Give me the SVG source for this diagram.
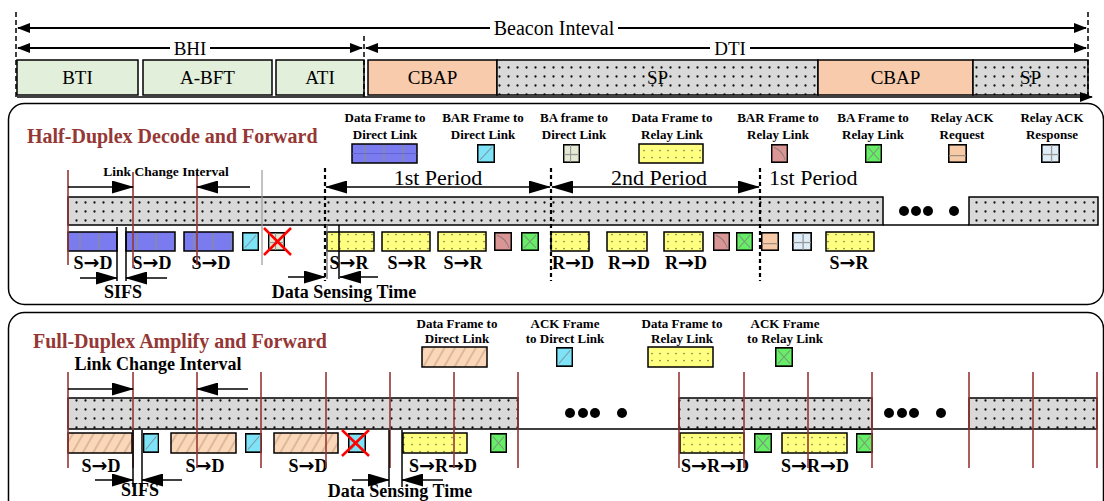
<svg xmlns="http://www.w3.org/2000/svg" xmlns:xlink="http://www.w3.org/1999/xlink" width="1104" height="501" viewBox="0 0 1104 501">
<style>
text{font-family:"Liberation Serif","Times New Roman",serif;fill:#000}
.big{font-size:19px;text-anchor:middle}
.per{font-size:22px}
.lg{font-size:13px;font-weight:bold;text-anchor:middle}
.lab{font-size:18px;font-weight:bold;text-anchor:middle}
.ar{font-family:"DejaVu Sans",sans-serif;font-size:19px;font-weight:bold}
.ttl{font-size:20px;font-weight:bold;fill:#953735}
.box{stroke:#000;stroke-width:1.5}
.bti{fill:#e2efda}
.cbap{fill:#f8cbad}
.dots{fill:url(#pDots)}
.blue{fill:url(#pBlue)}
.yel{fill:url(#pYel)}
.hat{fill:url(#pHat)}
.red{stroke:#953735;stroke-width:1.6}
.blk{stroke:#000;stroke-width:1.5}
.dash{stroke:#000;stroke-width:1.5;stroke-dasharray:5 3}
.pdash{stroke:#000;stroke-width:2.2;stroke-dasharray:4 3}
.arr{stroke:#000;stroke-width:1.5;fill:none;marker-end:url(#ah)}
.arr2{stroke:#000;stroke-width:1.5;fill:none;marker-start:url(#ah);marker-end:url(#ah)}
.arrs2{stroke:#000;stroke-width:2;fill:none;marker-start:url(#ahs);marker-end:url(#ahs)}
.xx{stroke:#f00;stroke-width:2.5}
.bg{fill:#fff}
.pan{fill:none;stroke:#000;stroke-width:1.5}
</style>
<defs>
<marker id="ah" viewBox="0 0 22 13" markerWidth="22" markerHeight="13" refX="21" refY="6.5" markerUnits="userSpaceOnUse" orient="auto-start-reverse"><path d="M0,0 L22,6.5 L0,13 Z" fill="#000"/></marker>
<marker id="ahs" viewBox="0 0 13 10" markerWidth="13" markerHeight="10" refX="12" refY="5" markerUnits="userSpaceOnUse" orient="auto-start-reverse"><path d="M0,0 L13,5 L0,10 Z" fill="#000"/></marker>
<pattern id="pDots" width="9" height="9" patternUnits="userSpaceOnUse"><rect width="9" height="9" fill="#d9d9d9"/><circle cx="4.5" cy="4.5" r="1.15" fill="#111"/></pattern>
<pattern id="pYel" width="8" height="7" patternUnits="userSpaceOnUse"><rect width="8" height="7" fill="#ffff80"/><circle cx="4" cy="3.5" r="0.85" fill="#7a7a55"/></pattern>
<pattern id="pBlue" width="19" height="20" patternUnits="userSpaceOnUse"><rect width="19" height="20" fill="#7b7bf0"/><line x1="4" y1="0" x2="4" y2="20" stroke="#8a8aa0" stroke-width="1.5"/></pattern>
<pattern id="pHat" width="9" height="9" patternUnits="userSpaceOnUse" patternTransform="rotate(30)"><rect x="-1" y="-1" width="11" height="11" fill="#fad7b9"/><line x1="1" y1="-1" x2="1" y2="10" stroke="#c39a7a" stroke-width="1"/></pattern>
<symbol id="sCyan" viewBox="0 0 18 18" preserveAspectRatio="none"><rect x="0.75" y="0.75" width="16.5" height="16.5" fill="#7ee3f6" stroke="#000" stroke-width="1.5"/><line x1="3" y1="15" x2="15" y2="3" stroke="#7a9aa8" stroke-width="1"/></symbol>
<symbol id="sBA" viewBox="0 0 18 18" preserveAspectRatio="none"><rect x="0.75" y="0.75" width="16.5" height="16.5" fill="#e3e9d3" stroke="#000" stroke-width="1.5"/><line x1="8" y1="1" x2="8" y2="17" stroke="#999" stroke-width="1.2"/><line x1="1" y1="10" x2="17" y2="10" stroke="#999" stroke-width="1.2"/></symbol>
<symbol id="sPink" viewBox="0 0 18 18" preserveAspectRatio="none"><rect x="0.75" y="0.75" width="16.5" height="16.5" fill="#d99694" stroke="#000" stroke-width="1.5"/><path d="M3,3 Q12,6 15,15" stroke="#8f7a7a" stroke-width="1" fill="none"/></symbol>
<symbol id="sGreen" viewBox="0 0 18 18" preserveAspectRatio="none"><rect x="0.75" y="0.75" width="16.5" height="16.5" fill="#66ee66" stroke="#000" stroke-width="1.5"/><path d="M3,3 L15,15 M15,3 L3,15" stroke="#7a9a7a" stroke-width="1" fill="none"/></symbol>
<symbol id="sPeach" viewBox="0 0 18 18" preserveAspectRatio="none"><rect x="0.75" y="0.75" width="16.5" height="16.5" fill="#f8cba8" stroke="#000" stroke-width="1.5"/><line x1="1" y1="11" x2="17" y2="11" stroke="#a09080" stroke-width="1.2"/></symbol>
<symbol id="sLBlue" viewBox="0 0 18 18" preserveAspectRatio="none"><rect x="0.75" y="0.75" width="16.5" height="16.5" fill="#deedf8" stroke="#000" stroke-width="1.5"/><line x1="10" y1="1" x2="10" y2="17" stroke="#999" stroke-width="1.2"/><line x1="1" y1="10" x2="17" y2="10" stroke="#999" stroke-width="1.2"/></symbol>
</defs>

<!-- ============ TOP: beacon interval ============ -->
<g id="beacon-structure">
  <g id="node-BTI"><rect class="box bti" x="17" y="60" width="121" height="35"/><text class="big" x="77.5" y="84">BTI</text></g>
  <g id="node-ABFT"><rect class="box bti" x="143" y="60" width="129" height="35"/><text class="big" x="207.5" y="84">A-BFT</text></g>
  <g id="node-ATI"><rect class="box bti" x="276" y="60" width="88" height="35"/><text class="big" x="320" y="84">ATI</text></g>
  <g id="node-CBAP1"><rect class="box cbap" x="368" y="60" width="129" height="35"/><text class="big" x="432.5" y="84">CBAP</text></g>
  <g id="node-SP1"><rect class="box dots" x="497" y="60" width="321" height="35"/><text class="big" x="657.5" y="84">SP</text></g>
  <g id="node-CBAP2"><rect class="box cbap" x="818" y="60" width="155" height="35"/><text class="big" x="895.5" y="84">CBAP</text></g>
  <g id="node-SP2"><rect class="box dots" x="973" y="60" width="115" height="35"/><text class="big" x="1030.5" y="84">SP</text></g>
</g>

<!-- ============ PANEL 1 ============ -->
<g id="panel-half-duplex">
  <rect class="pan" x="8.5" y="103.5" width="1095" height="201" rx="16"/>
  <text class="ttl" x="27" y="143">Half-Duplex Decode and Forward</text>
</g>
<g id="legend-hd">
  <g id="lg1"><text class="lg" x="385" y="122">Data Frame to</text><text class="lg" x="385" y="139">Direct Link</text><rect class="box blue" x="352" y="144" width="65" height="19"/><line x1="352" y1="153.5" x2="417" y2="153.5" stroke="#5555c0" stroke-width="0.6"/></g>
  <g id="lg2"><text class="lg" x="483" y="122">BAR Frame to</text><text class="lg" x="483" y="139">Direct Link</text><use xlink:href="#sCyan" href="#sCyan" x="477" y="144" width="18" height="19"/></g>
  <g id="lg3"><text class="lg" x="574" y="122">BA frame to</text><text class="lg" x="574" y="139">Direct Link</text><use xlink:href="#sBA" href="#sBA" x="563" y="144" width="17" height="19"/></g>
  <g id="lg4"><text class="lg" x="672" y="122">Data Frame to</text><text class="lg" x="672" y="139">Relay Link</text><rect class="box yel" x="639" y="144" width="64" height="19"/></g>
  <g id="lg5"><text class="lg" x="778" y="122">BAR Frame to</text><text class="lg" x="778" y="139">Relay Link</text><use xlink:href="#sPink" href="#sPink" x="771" y="144" width="17" height="19"/></g>
  <g id="lg6"><text class="lg" x="873" y="122">BA Frame to</text><text class="lg" x="873" y="139">Relay Link</text><use xlink:href="#sGreen" href="#sGreen" x="865" y="144" width="17" height="19"/></g>
  <g id="lg7"><text class="lg" x="962" y="122">Relay ACK</text><text class="lg" x="962" y="139">Request</text><use xlink:href="#sPeach" href="#sPeach" x="948" y="144" width="19" height="19"/></g>
  <g id="lg8"><text class="lg" x="1052" y="122">Relay ACK</text><text class="lg" x="1052" y="139">Response</text><use xlink:href="#sLBlue" href="#sLBlue" x="1041" y="144" width="19" height="19"/></g>
</g>
<g id="hd-medium">
  <line class="blk" x1="883" y1="225" x2="969" y2="225"/>
  <rect class="box dots" x="68" y="197" width="815" height="28"/>
  <rect class="box dots" x="969" y="197" width="129" height="28"/>
  <circle cx="904" cy="211" r="5"/><circle cx="916" cy="211" r="5"/><circle cx="928" cy="211" r="5"/><circle cx="954" cy="211" r="5"/>
</g>
<g id="hd-frames">
  <rect class="box blue" x="68" y="232" width="49" height="19"/>
  <rect class="box blue" x="126" y="232" width="49" height="19"/>
  <rect class="box blue" x="184" y="232" width="49" height="19"/>
  <use xlink:href="#sCyan" href="#sCyan" x="242" y="232" width="17" height="19"/>
  <use xlink:href="#sBA" href="#sBA" x="268" y="232" width="17" height="19"/>
  <line class="xx" x1="264" y1="228" x2="291" y2="255"/><line class="xx" x1="291" y1="228" x2="264" y2="255"/>
  <rect class="box yel" x="327" y="232" width="47" height="19"/>
  <rect class="box yel" x="382" y="232" width="48" height="19"/>
  <rect class="box yel" x="438" y="232" width="48" height="19"/>
  <use xlink:href="#sPink" href="#sPink" x="494" y="232" width="18" height="19"/>
  <use xlink:href="#sGreen" href="#sGreen" x="521" y="232" width="18" height="19"/>
  <rect class="box yel" x="551" y="232" width="38" height="19"/>
  <rect class="box yel" x="607" y="232" width="40" height="19"/>
  <rect class="box yel" x="664" y="232" width="39" height="19"/>
  <use xlink:href="#sPink" href="#sPink" x="713" y="232" width="17" height="19"/>
  <use xlink:href="#sGreen" href="#sGreen" x="736" y="232" width="17" height="19"/>
  <use xlink:href="#sPeach" href="#sPeach" x="761" y="232" width="18" height="19"/>
  <use xlink:href="#sLBlue" href="#sLBlue" x="792" y="232" width="20" height="19"/>
  <rect class="box yel" x="826" y="232" width="48" height="19"/>
  <text class="lab" x="93" y="269">S<tspan class="ar">→</tspan>D</text>
  <text class="lab" x="152" y="269">S<tspan class="ar">→</tspan>D</text>
  <text class="lab" x="211" y="269">S<tspan class="ar">→</tspan>D</text>
  <text class="lab" x="349" y="269">S<tspan class="ar">→</tspan>R</text>
  <text class="lab" x="407" y="269">S<tspan class="ar">→</tspan>R</text>
  <text class="lab" x="463" y="269">S<tspan class="ar">→</tspan>R</text>
  <text class="lab" x="573" y="269">R<tspan class="ar">→</tspan>D</text>
  <text class="lab" x="629" y="269">R<tspan class="ar">→</tspan>D</text>
  <text class="lab" x="686" y="269">R<tspan class="ar">→</tspan>D</text>
  <text class="lab" x="849" y="269">S<tspan class="ar">→</tspan>R</text>
</g>

<!-- ============ PANEL 2 ============ -->
<g id="panel-full-duplex">
  <rect class="pan" x="8.5" y="312.5" width="1095" height="220" rx="16"/>
  <text class="ttl" x="33" y="348">Full-Duplex Amplify and Forward</text>
</g>
<g id="legend-fd">
  <g id="lf1"><text class="lg" x="457" y="328">Data Frame to</text><text class="lg" x="457" y="343">Direct Link</text><rect class="box hat" x="422" y="347" width="65" height="20"/></g>
  <g id="lf2"><text class="lg" x="565" y="328">ACK Frame</text><text class="lg" x="565" y="343">to Direct Link</text><use xlink:href="#sCyan" href="#sCyan" x="556" y="347" width="17" height="20"/></g>
  <g id="lf3"><text class="lg" x="682" y="328">Data Frame to</text><text class="lg" x="682" y="343">Relay Link</text><rect class="box yel" x="648" y="347" width="65" height="20"/></g>
  <g id="lf4"><text class="lg" x="785" y="328">ACK Frame</text><text class="lg" x="785" y="343">to Relay Link</text><use xlink:href="#sGreen" href="#sGreen" x="775" y="347" width="18" height="20"/></g>
</g>
<g id="fd-medium">
  <line class="blk" x1="518" y1="429" x2="969" y2="429"/>
  <rect class="box dots" x="68" y="398" width="450" height="31"/>
  <rect class="box dots" x="679" y="398" width="193" height="31"/>
  <rect class="box dots" x="969" y="398" width="128" height="31"/>
  <circle cx="570" cy="413" r="5"/><circle cx="583" cy="413" r="5"/><circle cx="595" cy="413" r="5"/><circle cx="622" cy="413" r="5"/>
  <circle cx="889" cy="413" r="5"/><circle cx="902" cy="413" r="5"/><circle cx="914" cy="413" r="5"/><circle cx="941" cy="413" r="5"/>
</g>
<g id="fd-frames">
  <rect class="box hat" x="68" y="433" width="64" height="20"/>
  <use xlink:href="#sCyan" href="#sCyan" x="143" y="433" width="16" height="20"/>
  <rect class="box hat" x="171" y="433" width="65" height="20"/>
  <use xlink:href="#sCyan" href="#sCyan" x="245" y="433" width="17" height="20"/>
  <rect class="box hat" x="274" y="433" width="64" height="20"/>
  <use xlink:href="#sCyan" href="#sCyan" x="348" y="433" width="18" height="20"/>
  <line class="xx" x1="342" y1="430" x2="369" y2="456"/><line class="xx" x1="369" y1="430" x2="342" y2="456"/>
  <rect class="box yel" x="403" y="433" width="64" height="20"/>
  <use xlink:href="#sGreen" href="#sGreen" x="490" y="433" width="17" height="20"/>
  <rect class="box yel" x="680" y="433" width="64" height="20"/>
  <use xlink:href="#sGreen" href="#sGreen" x="754" y="433" width="18" height="20"/>
  <rect class="box yel" x="782" y="433" width="65" height="20"/>
  <use xlink:href="#sGreen" href="#sGreen" x="856" y="433" width="17" height="20"/>
  <text class="lab" x="101" y="472">S<tspan class="ar">→</tspan>D</text>
  <text class="lab" x="205" y="472">S<tspan class="ar">→</tspan>D</text>
  <text class="lab" x="308" y="472">S<tspan class="ar">→</tspan>D</text>
  <text class="lab" x="443" y="472">S<tspan class="ar">→</tspan>R<tspan class="ar">→</tspan>D</text>
  <text class="lab" x="715" y="472">S<tspan class="ar">→</tspan>R<tspan class="ar">→</tspan>D</text>
  <text class="lab" x="815" y="472">S<tspan class="ar">→</tspan>R<tspan class="ar">→</tspan>D</text>
</g>

<!-- ============ CONNECTORS / MARKERS ============ -->
<g id="connectors">
  <line class="dash" x1="16" y1="12" x2="16" y2="100"/>
  <line class="dash" x1="364" y1="36" x2="364" y2="100"/>
  <line class="dash" x1="1088" y1="12" x2="1088" y2="96"/>
  <line class="arrs2" x1="18" y1="28" x2="1086" y2="28"/>
  <rect class="bg" x="490" y="16" width="128" height="22"/>
  <text class="big" x="554" y="35" style="font-size:20px">Beacon Inteval</text>
  <line class="arrs2" x1="18" y1="48" x2="362" y2="48"/>
  <rect class="bg" x="170" y="38" width="40" height="20"/>
  <text class="big" x="190" y="55">BHI</text>
  <line class="arrs2" x1="366" y1="48" x2="1086" y2="48"/>
  <rect class="bg" x="710" y="38" width="40" height="20"/>
  <text class="big" x="730" y="55">DTI</text>
  <line x1="17" y1="97" x2="1092" y2="97" stroke="#000" stroke-width="1.5" marker-end="url(#ahs)"/>

  <line class="red" x1="68" y1="170" x2="68" y2="265"/>
  <line class="red" x1="133" y1="172" x2="133" y2="268"/>
  <line class="red" x1="197" y1="172" x2="197" y2="265"/>
  <line x1="262" y1="170" x2="262" y2="265" stroke="#999" stroke-width="1.2"/>
  <text x="166" y="176" style="font-size:13.5px;font-weight:bold;text-anchor:middle">Link Change Interval</text>
  <line class="arr" x1="68" y1="187" x2="133" y2="187"/>
  <line class="arr" x1="250" y1="187" x2="197" y2="187"/>
  <line class="pdash" x1="325" y1="168" x2="325" y2="281"/>
  <line class="pdash" x1="551" y1="168" x2="551" y2="281"/>
  <line class="pdash" x1="760" y1="168" x2="760" y2="281"/>
  <line class="arr2" x1="326" y1="187" x2="550" y2="187"/>
  <line class="arr2" x1="552" y1="187" x2="759" y2="187"/>
  <text class="per" x="438" y="185" text-anchor="middle">1st Period</text>
  <text class="per" x="659" y="185" text-anchor="middle">2nd Period</text>
  <text class="per" x="769" y="185">1st Period</text>
  <line class="blk" x1="117" y1="227" x2="117" y2="281"/>
  <line class="blk" x1="126" y1="227" x2="126" y2="281"/>
  <line class="arr" x1="80" y1="278" x2="117" y2="278"/>
  <line class="arr" x1="167" y1="278" x2="126" y2="278"/>
  <text class="lab" x="123" y="298">SIFS</text>
  <line x1="327" y1="225" x2="327" y2="279" stroke="#666" stroke-width="1.2"/>
  <line class="blk" x1="339" y1="225" x2="339" y2="279"/>
  <line class="arr" x1="288" y1="277" x2="325" y2="277"/>
  <line class="arr" x1="378" y1="277" x2="340" y2="277"/>
  <text class="lab" x="344" y="298">Data Sensing Time</text>

  <text x="158" y="370" style="font-size:18px;font-weight:bold;text-anchor:middle">Link Change Interval</text>
  <line class="red" x1="68" y1="372" x2="68" y2="468"/>
  <line class="red" x1="133" y1="372" x2="133" y2="468"/>
  <line class="red" x1="197" y1="372" x2="197" y2="468"/>
  <line class="red" x1="261" y1="372" x2="261" y2="468"/>
  <line class="red" x1="326" y1="372" x2="326" y2="468"/>
  <line class="red" x1="390" y1="372" x2="390" y2="468"/>
  <line class="red" x1="454" y1="372" x2="454" y2="468"/>
  <line class="red" x1="518" y1="372" x2="518" y2="468"/>
  <line class="red" x1="679" y1="372" x2="679" y2="468"/>
  <line class="red" x1="744" y1="372" x2="744" y2="468"/>
  <line class="red" x1="808" y1="372" x2="808" y2="468"/>
  <line class="red" x1="872" y1="372" x2="872" y2="468"/>
  <line class="red" x1="969" y1="372" x2="969" y2="468"/>
  <line class="red" x1="1033" y1="372" x2="1033" y2="468"/>
  <line class="red" x1="1097" y1="372" x2="1097" y2="468"/>
  <line class="arr" x1="68" y1="389" x2="133" y2="389"/>
  <line class="arr" x1="248" y1="389" x2="197" y2="389"/>
  <line class="blk" x1="133" y1="430" x2="133" y2="487"/>
  <line class="blk" x1="142" y1="430" x2="142" y2="487"/>
  <line class="arr" x1="95" y1="480" x2="133" y2="480"/>
  <line class="arr" x1="182" y1="480" x2="142" y2="480"/>
  <text class="lab" x="140" y="496">SIFS</text>
  <line class="blk" x1="389" y1="430" x2="389" y2="487"/>
  <line class="blk" x1="402" y1="430" x2="402" y2="487"/>
  <line class="arr" x1="352" y1="480" x2="389" y2="480"/>
  <line class="arr" x1="443" y1="480" x2="402" y2="480"/>
  <text class="lab" x="400" y="497">Data Sensing Time</text>
</g>
</svg>
